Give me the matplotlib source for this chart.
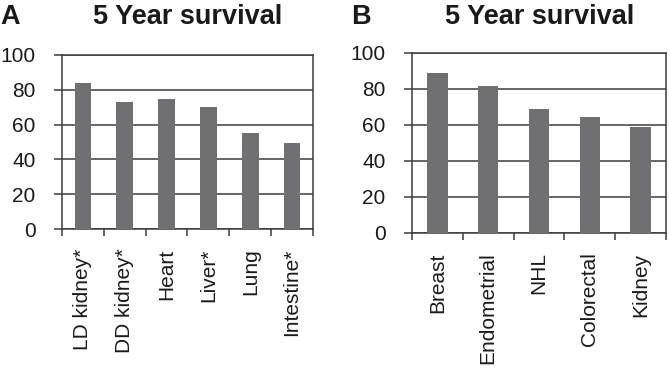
import numpy as np
import matplotlib
matplotlib.use("Agg")
import matplotlib.pyplot as plt

plt.rcParams['font.family'] = ['Liberation Sans', 'DejaVu Sans']

organs = ['LD kidney*', 'DD kidney*', 'Heart', 'Liver*', 'Lung', 'Intestine*']
organ_surv = [84, 73, 75, 70, 55, 49.5]
cancers = ['Breast', 'Endometrial', 'NHL', 'Colorectal', 'Kidney']
cancer_surv = [89, 81.5, 69, 64.5, 59]
yticks = [0, 20, 40, 60, 80, 100]

W, H = 669, 369
fig = plt.figure(figsize=(W / 100, H / 100), dpi=100)

bar_c = '#707073'
line_c = '#3c3c3c'


def panel(rect, cats, vals, title, letter, title_x, letter_x):
    l, t, r, b = rect
    ax = fig.add_axes([l / W, 1 - b / H, (r - l) / W, (b - t) / H])
    x = np.arange(len(cats))
    ax.bar(x, vals, width=0.4, color=bar_c, zorder=3)
    ax.set_xlim(-0.5, len(cats) - 0.5)
    ax.set_ylim(0, 100)
    ax.set_yticks(yticks)
    ax.set_yticklabels([str(v) for v in yticks], fontsize=15, color='#1a1a1a')
    ax.yaxis.grid(True, color=line_c, linewidth=1.1, zorder=1)
    ax.set_xticks(x)
    ax.set_xticklabels(cats, rotation=90, fontsize=15, va='top', ha='center',
                       color='#1a1a1a')
    ax.set_xticks(np.arange(len(cats) + 1) - 0.5, minor=True)
    ax.tick_params(axis='x', which='major', length=0, pad=14)
    ax.tick_params(axis='x', which='minor', length=5, width=1.1, color=line_c, direction='out')
    ax.tick_params(axis='y', length=6, width=1.1, color=line_c, pad=13)
    for s in ax.spines.values():
        s.set_color(line_c)
        s.set_linewidth(1.1)
    fig.text(title_x / W, 1 - 17 / H, title, ha='center', va='center',
             fontsize=19.5, fontweight='bold', color='#1a1a1a')
    fig.text(letter_x / W, 1 - 17 / H, letter, ha='left', va='center',
             fontsize=19.5, fontweight='bold', color='#1a1a1a')
    return ax


panel((62, 55, 313, 229), organs, organ_surv, '5 Year survival', 'A', 188, 0)
panel((412, 53, 666, 233), cancers, cancer_surv, '5 Year survival', 'B', 540, 351)

fig.savefig('out.png', dpi=100)
